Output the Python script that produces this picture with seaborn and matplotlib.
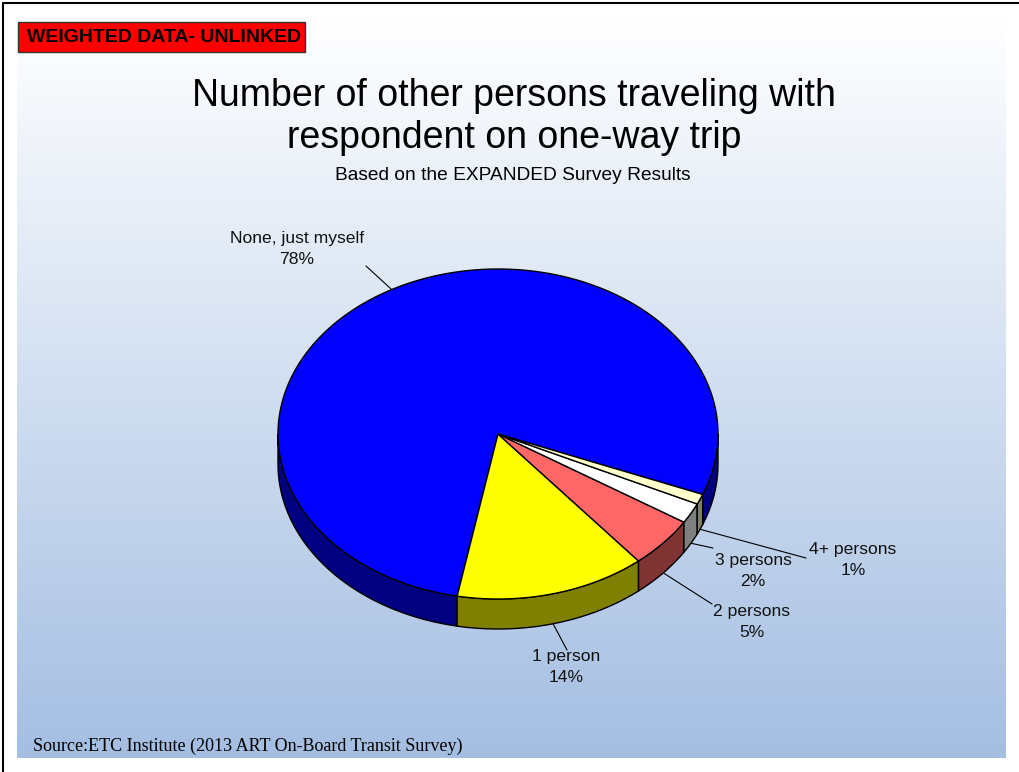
import numpy as np
import matplotlib
matplotlib.use("Agg")
import matplotlib.pyplot as plt
from matplotlib.patches import Polygon, Rectangle
import seaborn as sns

# ---- data ----
categories = ["None, just myself", "1 person", "2 persons", "3 persons", "4+ persons"]
shares = [78, 14, 5, 2, 1]
top_colors = ["#0000FF", "#FFFF00", "#FF6666", "#FFFFFF", "#FFFFCC"]
side_colors = ["#000080", "#808000", "#803333", "#808080", "#808066"]

title = "Number of other persons traveling with\nrespondent on one-way trip"
subtitle = "Based on the EXPANDED Survey Results"
badge = "WEIGHTED DATA- UNLINKED"
source = "Source:ETC Institute (2013 ART On-Board Transit Survey)"

sns.set_theme(style="white")
plt.rcParams["font.family"] = ["Liberation Sans", "DejaVu Sans"]

W, H = 1020, 772
fig = plt.figure(figsize=(W / 100, H / 100), dpi=100)
ax = fig.add_axes([0, 0, 1, 1])
ax.set_xlim(0, W)
ax.set_ylim(H, 0)
ax.axis("off")

# gradient panel (white at top fading to light blue)
grad = np.linspace(0, 1, 256)[:, None]
c0 = np.array([1.0, 1.0, 1.0])
c1 = np.array([164, 190, 226]) / 255
img = c0 + (c1 - c0) * grad[..., None]
img = np.repeat(img, 2, axis=1)
ax.imshow(img, extent=[17, 1006, 758, 18], aspect="auto", zorder=0)

# frame lines on top and left
ax.plot([3, W], [3, 3], color="black", lw=1.5, zorder=1)
ax.plot([3, 3], [3, H], color="black", lw=1.5, zorder=1)

# ---- 3D pie ----
cx, cy, rx, ry, depth = 498, 434, 220, 165, 30
start = -21.5


def pt(t):
    r = np.deg2rad(t)
    return cx + rx * np.cos(r), cy - ry * np.sin(r)


total = float(sum(shares))
angles = []
a = start
for v in shares:
    span = 360.0 * v / total
    angles.append((a, a + span))
    a += span

# side walls (visible for angles in the lower half)
for (a1, a2), sc in zip(angles, side_colors):
    for k in range(-1, 2):
        lo = max(a1, 180 + 360 * k)
        hi = min(a2, 360 + 360 * k)
        if hi <= lo:
            continue
        ts = np.linspace(lo, hi, 80)
        top = [pt(t) for t in ts]
        bot = [(x, y + depth) for x, y in top[::-1]]
        ax.add_patch(Polygon(top + bot, closed=True, facecolor=sc,
                             edgecolor="black", lw=1.0, zorder=2))

# top surface wedges
for (a1, a2), tc in zip(angles, top_colors):
    ts = np.linspace(a1, a2, 200)
    verts = [(cx, cy)] + [pt(t) for t in ts]
    ax.add_patch(Polygon(verts, closed=True, facecolor=tc,
                         edgecolor="black", lw=1.0, zorder=3))

# labels with leader lines
label_pos = [(297, 249), (566, 667), (752, 622), (753, 571), (853, 560)]
line_end = [(366, 266), (567, 650), (712, 604), (713, 548), (806, 558)]
for (a1, a2), name, v, lp, le in zip(angles, categories, shares, label_pos, line_end):
    mid = 0.5 * (a1 + a2)
    x0, y0 = pt(mid)
    if np.sin(np.deg2rad(mid)) < 0:
        y0 += depth
    ax.plot([x0, le[0]], [y0, le[1]], color="black", lw=0.8, zorder=4)
    ax.text(lp[0], lp[1], f"{name}\n{v}%", ha="center", va="center",
            fontsize=12.6, color="#111111", linespacing=1.45, zorder=5)

# titles
ax.text(514, 117, title, ha="center", va="center", fontsize=27,
        color="black", linespacing=1.2, zorder=5)
ax.text(513, 175, subtitle, ha="center", va="center", fontsize=13.8,
        color="black", zorder=5)

# badge
ax.add_patch(Rectangle((18, 22), 287, 30, facecolor="#FF0000",
                       edgecolor="#333333", lw=1.0, zorder=5))
ax.text(27, 38, badge, ha="left", va="center", fontsize=14,
        fontweight="bold", color="black", zorder=6)

# source
ax.text(33, 746, source, ha="left", va="center", fontsize=13,
        family=["Liberation Serif", "DejaVu Serif"], color="black", zorder=5)

fig.savefig("out.png", dpi=100)
